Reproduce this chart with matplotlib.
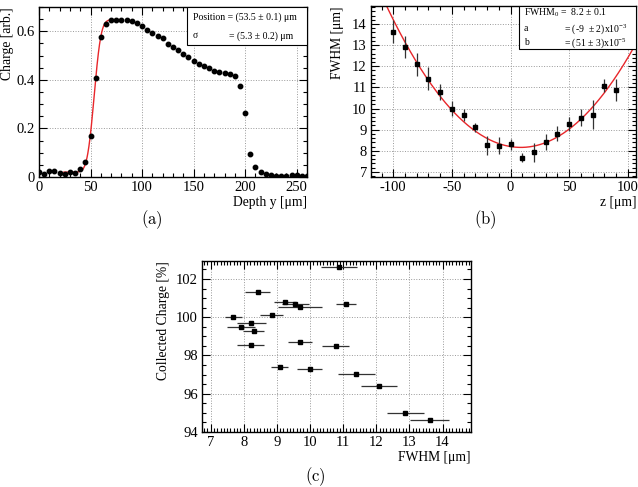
import matplotlib
matplotlib.use('Agg')
import matplotlib.pyplot as plt
import numpy as np
from math import erf
from matplotlib.ticker import MultipleLocator, AutoMinorLocator
from matplotlib.patches import Rectangle

plt.rcParams['font.family'] = ['Liberation Serif', 'DejaVu Serif']
plt.rcParams['mathtext.fontset'] = 'custom'
plt.rcParams['mathtext.rm'] = 'Liberation Serif'
plt.rcParams['mathtext.it'] = 'Liberation Serif:italic'
plt.rcParams['axes.unicode_minus'] = False

# (a) charge vs depth
depth = np.arange(0, 261, 5)
charge = [0.019, 0.014, 0.025, 0.025, 0.016, 0.014, 0.019, 0.018, 0.034, 0.063,
          0.168, 0.408, 0.575, 0.632, 0.645, 0.648, 0.648, 0.648, 0.641, 0.636,
          0.622, 0.607, 0.593, 0.582, 0.571, 0.548, 0.535, 0.523, 0.508, 0.493,
          0.476, 0.467, 0.457, 0.448, 0.438, 0.433, 0.428, 0.424, 0.415, 0.375,
          0.265, 0.095, 0.041, 0.021, 0.012, 0.010, 0.005, 0.004, 0.004, 0.010,
          0.010, 0.005, 0.003]
pos_fit, sig_fit, base_fit, top_fit = 53.5, 5.3, 0.02, 0.648

# (b) FWHM vs z
z = np.arange(-100, 91, 10)
fwhm = [13.64, 12.90, 12.09, 11.41, 10.80, 9.99, 9.70, 9.11, 8.26, 8.25,
        8.31, 7.68, 7.93, 8.42, 8.80, 9.27, 9.57, 9.70, 11.08, 10.88]
fwhm_err = [0.53, 0.53, 0.53, 0.55, 0.38, 0.35, 0.30, 0.22, 0.44, 0.38,
            0.27, 0.23, 0.44, 0.38, 0.35, 0.35, 0.42, 0.68, 0.30, 0.54]
fwhm0, a_fit, b_fit = 8.2, -9e-3, 51e-5

# (c) collected charge vs FWHM
c_fwhm = [10.87, 8.42, 9.24, 9.56, 9.70, 11.08, 8.84, 7.68, 8.23, 7.91,
          8.30, 9.70, 10.77, 8.21, 9.08, 9.99, 11.40, 12.08, 12.88, 13.61]
c_fwhm_err = [0.55, 0.38, 0.33, 0.41, 0.66, 0.31, 0.36, 0.26, 0.43, 0.43,
              0.32, 0.35, 0.41, 0.40, 0.26, 0.37, 0.55, 0.55, 0.57, 0.58]
collected = [102.63, 101.32, 100.79, 100.67, 100.55, 100.69, 100.11, 99.99, 99.69, 99.48,
             99.29, 98.72, 98.50, 98.56, 97.41, 97.30, 97.04, 96.39, 94.99, 94.65]

W, H = 638, 487
fig = plt.figure(figsize=(W / 100, H / 100), dpi=100)


def px_axes(l, t, r, b):
    return fig.add_axes([l / W, 1 - b / H, (r - l) / W, (b - t) / H])


def root_style(ax, xmaj, xmin_n, ymaj, ymin_n):
    ax.xaxis.set_major_locator(MultipleLocator(xmaj))
    ax.xaxis.set_minor_locator(AutoMinorLocator(xmin_n))
    ax.yaxis.set_major_locator(MultipleLocator(ymaj))
    ax.yaxis.set_minor_locator(AutoMinorLocator(ymin_n))
    ax.tick_params(which='both', direction='in', top=True, right=True, width=0.8)
    ax.tick_params(which='major', length=6, labelsize=10.5, pad=3)
    ax.tick_params(which='minor', length=3)
    ax.grid(True, which='major', linestyle=':', color='#999999', linewidth=0.7)
    for s in ax.spines.values():
        s.set_linewidth(1.0)


# ---- panel (a)
ax1 = px_axes(39, 7, 307, 177)
root_style(ax1, 50, 5, 0.2, 4)
ax1.set_xlim(0, 260)
ax1.set_ylim(0, 0.7)
ax1.plot(depth, charge, 'o', color='black', ms=3.2, zorder=3)
xf = np.linspace(24, 78, 200)
yf = [base_fit + (top_fit - base_fit) * 0.5 * (1 + erf((v - pos_fit) / (np.sqrt(2) * sig_fit))) for v in xf]
ax1.plot(xf, yf, color='#e8262a', lw=1.0, zorder=2)
ax1.set_yticks([0, 0.2, 0.4, 0.6], ['0', '0.2', '0.4', '0.6'])
ax1.set_xlabel('Depth y [μm]', loc='right', fontsize=9.8, labelpad=1)
ax1.set_ylabel('Charge [arb.]', loc='top', fontsize=9.8, labelpad=2)
ax1.add_patch(Rectangle((0.552, 0.776), 0.448, 0.224, transform=ax1.transAxes,
                        facecolor='white', edgecolor='black', lw=0.8, zorder=5))
ax1.text(0.575, 0.94, 'Position = (53.5 ± 0.1) μm', transform=ax1.transAxes,
         fontsize=7, va='center', zorder=6)
ax1.text(0.575, 0.83, 'σ', transform=ax1.transAxes, fontsize=7, va='center', zorder=6)
ax1.text(0.709, 0.83, '= (5.3 ± 0.2) μm', transform=ax1.transAxes,
         fontsize=7, va='center', zorder=6)

# ---- panel (b)
ax2 = px_axes(371, 6, 636, 177)
root_style(ax2, 50, 5, 1, 5)
ax2.set_xlim(-119, 107)
ax2.set_ylim(6.76, 14.85)
ax2.errorbar(z, fwhm, yerr=fwhm_err, fmt='s', color='black', ms=2.4,
             ecolor='#333333', elinewidth=0.9, capsize=0, zorder=3)
zf = np.linspace(-119, 107, 300)
ax2.plot(zf, fwhm0 + a_fit * zf + b_fit * zf ** 2, color='#e8262a', lw=1.0, zorder=2)
ax2.set_xlabel('z [μm]', loc='right', fontsize=9.8, labelpad=1)
ax2.set_ylabel('FWHM [μm]', loc='top', fontsize=9.8, labelpad=6)
ax2.add_patch(Rectangle((0.558, 0.749), 0.442, 0.251, transform=ax2.transAxes,
                        facecolor='white', edgecolor='black', lw=0.8, zorder=5))
ax2.text(0.577, 0.962, r'FWHM$_0$ =  8.2 ± 0.1', transform=ax2.transAxes,
         fontsize=7, va='center', zorder=6)
ax2.text(0.577, 0.868, 'a', transform=ax2.transAxes, fontsize=7, va='center', zorder=6)
ax2.text(0.729, 0.868, r'= (-9  ± 2)x10$^{-3}$', transform=ax2.transAxes,
         fontsize=7, va='center', zorder=6)
ax2.text(0.577, 0.784, 'b', transform=ax2.transAxes, fontsize=7, va='center', zorder=6)
ax2.text(0.729, 0.784, r'= (51 ± 3)x10$^{-5}$', transform=ax2.transAxes,
         fontsize=7, va='center', zorder=6)

# ---- panel (c)
ax3 = px_axes(202, 261, 471, 432)
root_style(ax3, 1, 10, 2, 4)
ax3.set_xlim(6.74, 14.86)
ax3.set_ylim(94, 102.94)
ax3.errorbar(c_fwhm, collected, xerr=c_fwhm_err, fmt='s', color='black', ms=2.8,
             ecolor='#333333', elinewidth=0.9, capsize=0, zorder=3)
ax3.set_xlabel('FWHM [μm]', loc='right', fontsize=9.8, labelpad=1)
ax3.set_ylabel('Collected Charge [%]', loc='top', fontsize=9.8, labelpad=4)

# sub-figure captions
for xc, yc, s in [(152, 220, '(a)'), (485, 220, '(b)'), (315, 477, '(c)')]:
    fig.text(xc / W, 1 - yc / H, r'$\mathrm{' + s + '}$', math_fontfamily='cm',
             fontsize=12, ha='center', va='center')

fig.savefig('out.png', dpi=100)
